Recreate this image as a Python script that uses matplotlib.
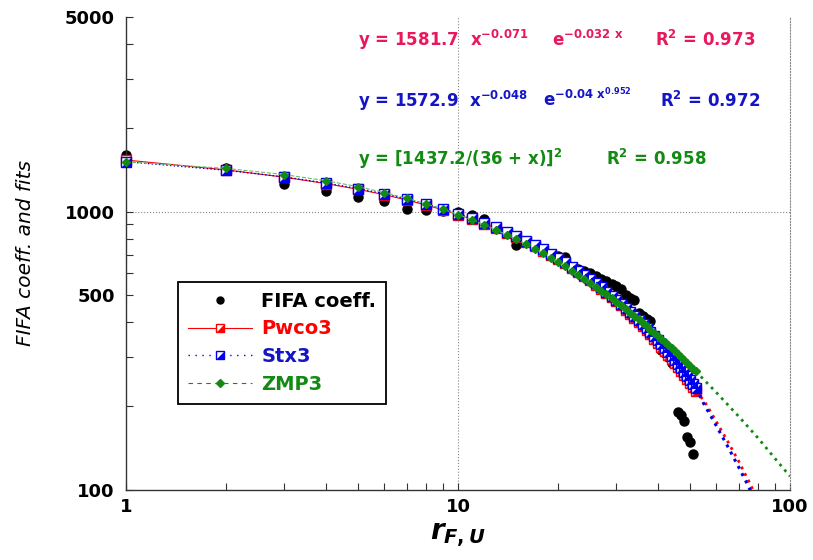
import matplotlib
matplotlib.use("Agg")
import matplotlib.pyplot as plt
from matplotlib.lines import Line2D
from matplotlib.legend_handler import HandlerTuple
from matplotlib.ticker import FixedLocator, NullFormatter

plt.rcParams['font.family'] = 'DejaVu Sans'
plt.rcParams['mathtext.fontset'] = 'custom'
plt.rcParams['mathtext.rm'] = 'DejaVu Sans:bold'
plt.rcParams['mathtext.bf'] = 'DejaVu Sans:bold'
plt.rcParams['mathtext.it'] = 'DejaVu Sans:bold:italic'

# FIFA coefficient by rank
fifa = [1600, 1440, 1260, 1190, 1130, 1095, 1020, 1015, 1005, 995,
        970, 940, 870, 845, 760, 785, 755, 725, 700, 690,
        685, 635, 620, 610, 600, 588, 572, 563, 550, 540,
        528, 503, 490, 483, 432, 421, 411, 405, 355, 340,
        318, 310, 300, 285, 285, 191, 186, 177, 155, 149, 135]
fifa_rank = list(range(1, len(fifa) + 1))

# fits at the ranks (with markers)
fit_rank = list(range(1, 53))
pwco3 = [1532, 1412, 1329, 1261, 1202, 1150, 1101, 1056, 1015, 975,
         938, 903, 870, 838, 808, 779, 751, 724, 699, 674,
         651, 628, 607, 586, 566, 546, 528, 510, 492, 476,
         460, 444, 429, 415, 401, 388, 375, 362, 350, 338,
         327, 316, 306, 296, 286, 277, 267, 259, 250, 242, 234, 226]
stx3 = [1511, 1408, 1332, 1267, 1210, 1158, 1110, 1066, 1024, 984,
        947, 912, 878, 846, 815, 786, 758, 732, 706, 681,
        658, 635, 613, 592, 572, 553, 534, 516, 499, 482,
        466, 451, 436, 421, 407, 394, 381, 369, 357, 345,
        334, 323, 312, 302, 293, 283, 274, 265, 257, 248, 241, 233]
zmp3 = [1509, 1430, 1358, 1291, 1229, 1171, 1117, 1067, 1020, 976,
        935, 897, 860, 826, 794, 764, 735, 708, 683, 659,
        636, 614, 593, 574, 555, 537, 520, 504, 489, 474,
        460, 447, 434, 422, 410, 398, 388, 377, 367, 358,
        348, 340, 331, 323, 315, 307, 300, 293, 286, 279, 273, 267]

# continuation of the fits beyond the data
pwco3_ext_rank = [52, 55, 60, 65, 70, 75, 80]
pwco3_ext = [226, 210, 176, 149, 127, 108, 92]
stx3_ext_rank = [52, 55, 60, 65, 70, 75, 80]
stx3_ext = [233, 204, 170, 143, 121, 103, 87]
zmp3_ext_rank = [52, 60, 70, 80, 90, 100]
zmp3_ext = [267, 224, 184, 154, 130, 112]

RED = '#ff0000'
BLUE = '#0000ee'
GREEN = '#138a13'
half = [(-1, -1), (1, -1), (1, 1), (-1, -1)]  # lower-right half of the square

fig = plt.figure(figsize=(8.13, 5.6), dpi=100)
ax = fig.add_axes([126 / 813, 70 / 560, 664 / 813, 473 / 560])
ax.set_xscale('log')
ax.set_yscale('log')
ax.set_xlim(1, 100)
ax.set_ylim(100, 5000)

ax.axvline(10, color='#888888', lw=0.8, ls=':', zorder=1)
ax.axhline(1000, color='#888888', lw=0.8, ls=':', zorder=1)

ax.plot(fifa_rank, fifa, ls='none', marker='o', ms=6.5, color='black', zorder=2, clip_on=False)

# Pwco3
ax.plot(fit_rank, pwco3, color=RED, lw=0.8, zorder=3)
ax.plot(pwco3_ext_rank, pwco3_ext, color=RED, lw=2, ls=':', zorder=3)
ax.plot(fit_rank, pwco3, ls='none', marker='s', ms=6.5, mfc='white', mec=RED, mew=1, zorder=3, clip_on=False)
ax.plot(fit_rank, pwco3, ls='none', marker=half, ms=6.5, mfc=RED, mec='none', zorder=3, clip_on=False)

# Stx3
ax.plot(fit_rank, stx3, color=BLUE, lw=1, ls=':', zorder=4)
ax.plot(stx3_ext_rank, stx3_ext, color=BLUE, lw=2.2, ls=':', zorder=4)
ax.plot(fit_rank, stx3, ls='none', marker='s', ms=6.5, mfc='white', mec=BLUE, mew=1, zorder=4, clip_on=False)
ax.plot(fit_rank, stx3, ls='none', marker=half, ms=6.5, mfc=BLUE, mec='none', zorder=4, clip_on=False)

# ZMP3
ax.plot(fit_rank, zmp3, color='#66c266', lw=0.8, ls='--', zorder=5)
ax.plot(zmp3_ext_rank, zmp3_ext, color=GREEN, lw=2, ls=':', zorder=5)
ax.plot(fit_rank, zmp3, ls='none', marker='D', ms=4.5, color=GREEN, zorder=5, clip_on=False)

# axes styling
for side in ['left', 'bottom']:
    ax.spines[side].set_color('#333333')
    ax.spines[side].set_linewidth(1)
ax.spines['top'].set_visible(False)
ax.spines['right'].set_color('#888888')
ax.spines['right'].set_linestyle(':')
ax.spines['right'].set_linewidth(0.8)

ax.xaxis.set_major_locator(FixedLocator([1, 10, 100]))
ax.xaxis.set_minor_locator(FixedLocator([2, 3, 4, 5, 6, 7, 8, 9, 20, 30, 40, 50, 60, 70, 80, 90]))
ax.set_xticklabels(['1', '10', '100'])
ax.yaxis.set_major_locator(FixedLocator([100, 500, 1000, 5000]))
ax.yaxis.set_minor_locator(FixedLocator([200, 300, 400, 600, 700, 800, 900, 2000, 3000, 4000]))
ax.set_yticklabels(['100', '500', '1000', '5000'])
ax.xaxis.set_minor_formatter(NullFormatter())
ax.yaxis.set_minor_formatter(NullFormatter())
ax.tick_params(which='both', direction='in', length=5, width=0.8, color='#333333',
               top=False, right=False, labelsize=13)
ax.tick_params(axis='y', pad=8)
ax.tick_params(axis='x', pad=6)
for lab in ax.get_xticklabels() + ax.get_yticklabels():
    lab.set_fontweight('bold')

ax.set_ylabel('FIFA coeff. and fits', fontsize=14.5, style='italic')
ax.yaxis.set_label_coords(-0.137, 0.5)
ax.set_xlabel(r'$r_{F,U}$', fontsize=20)
ax.xaxis.set_label_coords(0.5, -0.068)

# fit equations
PINK = '#e8185c'
EBLUE = '#1515c8'
kw = dict(transform=ax.transAxes, fontsize=12, fontweight='bold', va='baseline', ha='left')
ax.text(0.349, 0.9387, r'y = 1581.7  $\mathbf{x^{-0.071}}$', color=PINK, **kw)
ax.text(0.6416, 0.9387, r'$\mathbf{e^{-0.032\ x}}$', color=PINK, **kw)
ax.text(0.7967, 0.9387, r'R$^{\mathbf{2}}$ = 0.973', color=PINK, **kw)
ax.text(0.349, 0.8104, r'y = 1572.9  $\mathbf{x^{-0.048}}$', color=EBLUE, **kw)
ax.text(0.628, 0.8104, r'$\mathbf{e^{-0.04\ x^{0.952}}}$', color=EBLUE, **kw)
ax.text(0.804, 0.8104, r'R$^{\mathbf{2}}$ = 0.972', color=EBLUE, **kw)
ax.text(0.349, 0.687, r'y = [1437.2/(36 + x)]$^{\mathbf{2}}$', color=GREEN, **kw)
ax.text(0.7229, 0.687, r'R$^{\mathbf{2}}$ = 0.958', color=GREEN, **kw)

# legend
h_fifa = Line2D([], [], ls='none', marker='o', ms=5, color='black')
h_pw = (Line2D([], [], color=RED, lw=0.8, marker='s', ms=6, mfc='white', mec=RED),
        Line2D([], [], ls='none', marker=half, ms=6, mfc=RED, mec='none'))
h_st = (Line2D([], [], color=BLUE, lw=1, ls=(0, (1, 4)), marker='s', ms=6, mfc='white', mec=BLUE),
        Line2D([], [], ls='none', marker=half, ms=6, mfc=BLUE, mec='none'))
h_zm = Line2D([], [], color=GREEN, lw=0.8, ls=(0, (4, 4)), marker='D', ms=4, mfc=GREEN, mec=GREEN)
leg = ax.legend([h_fifa, h_pw, h_st, h_zm], ['FIFA coeff.', 'Pwco3', 'Stx3', 'ZMP3'],
                loc='upper left', bbox_to_anchor=(0.078, 0.44), borderaxespad=0,
                frameon=True, fancybox=False, edgecolor='black', framealpha=1,
                prop=dict(weight='bold', size=14), handlelength=3.3, handletextpad=0.5,
                borderpad=0.5, labelspacing=0.45,
                handler_map={tuple: HandlerTuple(ndivide=1, pad=0)})
leg.get_frame().set_linewidth(1.3)
for txt, c in zip(leg.get_texts(), ['black', RED, EBLUE, GREEN]):
    txt.set_color(c)

fig.savefig('out.png', dpi=100)
